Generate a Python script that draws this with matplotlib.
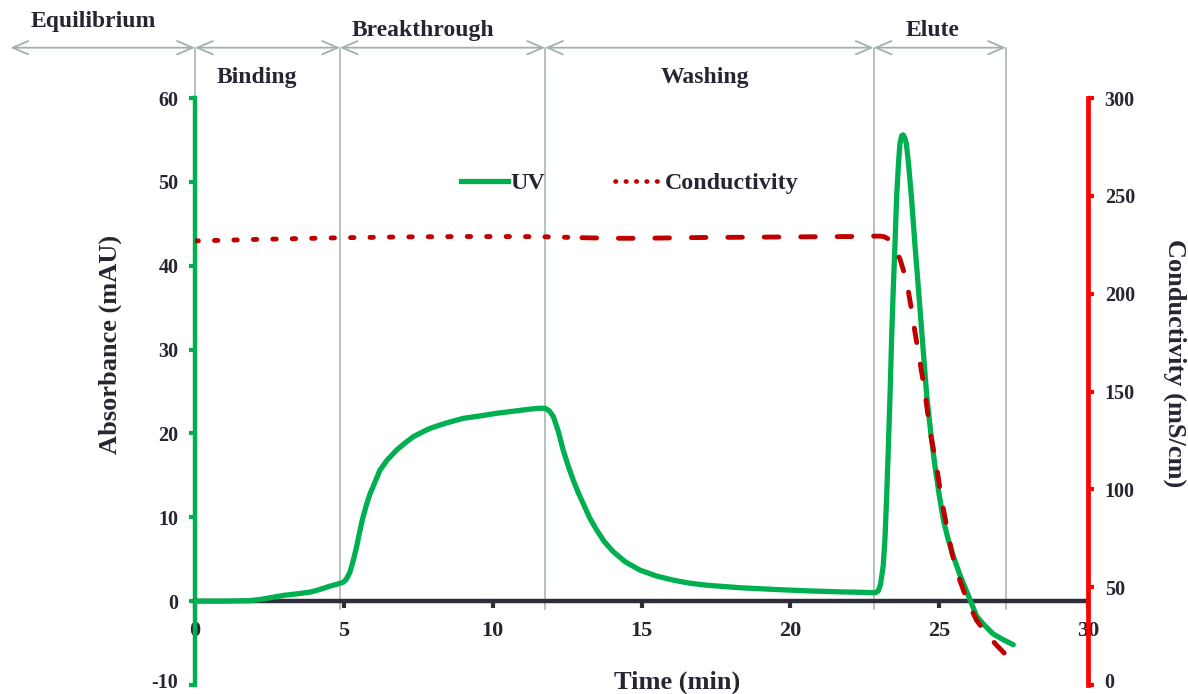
import matplotlib
matplotlib.use("Agg")
import matplotlib.pyplot as plt
import matplotlib.transforms as mtransforms
from matplotlib.lines import Line2D

# ---- data -----------------------------------------------------------------
uv_time = [0, 1.0, 1.8, 2.2, 2.6, 3.0, 3.5, 3.9, 4.2, 4.5, 4.8, 4.98, 5.08,
           5.2, 5.3, 5.43, 5.54, 5.65, 5.77, 5.88, 6.0, 6.21, 6.45, 6.77, 7.0,
           7.33, 7.6, 7.89, 8.4, 9.01, 9.6, 10.13, 10.7, 11.25, 11.55, 11.76,
           11.9, 12.04, 12.2, 12.37, 12.55, 12.71, 12.88, 13.04, 13.25, 13.49,
           13.75, 14.05, 14.45, 14.95, 15.5, 16.07, 16.6, 17.19, 18.31, 19.43,
           20.55, 21.67, 22.67, 22.85, 22.95, 23.03, 23.12, 23.18, 23.23, 23.29,
           23.35, 23.4, 23.46, 23.52, 23.57, 23.63, 23.68, 23.74, 23.79, 23.85,
           23.9, 23.98, 24.07, 24.18, 24.3, 24.44, 24.58, 24.72, 24.86, 25.0,
           25.14, 25.3, 25.47, 25.7, 25.92, 26.1, 26.26, 26.5, 26.81, 27.15,
           27.49]
uv_abs = [0, 0, 0.05, 0.2, 0.45, 0.7, 0.9, 1.1, 1.4, 1.75, 2.05, 2.25, 2.6,
          3.4, 4.6, 6.5, 8.4, 10.1, 11.6, 12.8, 13.8, 15.6, 16.8, 18.0, 18.7,
          19.6, 20.1, 20.6, 21.2, 21.8, 22.1, 22.4, 22.65, 22.9, 23.0, 23.0,
          22.7, 22.0, 20.3, 18.0, 16.0, 14.4, 12.9, 11.65, 10.0, 8.5,
          7.1, 5.9, 4.7, 3.7, 3.0, 2.5, 2.15, 1.9, 1.6, 1.4,
          1.23, 1.11, 1.03, 1.0, 1.2, 2.0, 4.2, 7.5, 11.9, 18.0,
          24.6, 31.0, 37.4, 43.0, 48.1, 52.0, 54.5, 55.5, 55.6, 55.2,
          54.5, 51.8, 48.1, 42.8, 37.4, 31.0, 24.6, 20.0, 16.1, 12.7,
          9.7, 7.4, 5.4, 3.1, 1.2, -0.4, -1.8, -2.8, -3.9, -4.6,
          -5.2]

cond_time = [0, 1, 2, 3, 4, 5, 6, 7, 8, 9, 10, 11, 12, 13, 14, 15, 16, 17,
             18, 19, 20, 21, 22, 22.73, 23.01, 23.15, 23.29, 23.45, 23.55,
             23.68, 23.9, 24.07, 24.18, 24.3, 24.41, 24.52, 24.69, 24.8, 24.91,
             25.02, 25.14, 25.28, 25.42, 25.56, 25.7, 25.92, 26.1, 26.26, 26.5,
             26.7, 26.95, 27.2]
cond_val = [227.0, 227.3, 227.7, 228.0, 228.3, 228.6, 228.8, 229.0, 229.1,
            229.2, 229.2, 229.2, 229.0, 228.6, 228.3, 228.3, 228.5, 228.7,
            228.8, 228.9, 229.0, 229.1, 229.2, 229.4, 229.4, 229.1, 228.0,
            225.0, 222.0, 217.8, 207.0, 192.0, 181.0, 170.0, 160.0, 150.0,
            130.0, 121.0, 112.0, 101.0, 90.0, 79.0, 68.0, 60.0, 53.3, 44.0,
            38.0, 33.0, 28.0, 24.2, 20.0, 16.1]
cond_dotted_until = 13.0   # dotted trace before this time, dashed after

phase_bounds = [0, 4.87, 11.76, 22.8, 27.24]
phase_names = ["Equilibrium", "Binding", "Breakthrough", "Washing", "Elute"]

x_ticks = [0, 5, 10, 15, 20, 25, 30]
uv_ticks = [-10, 0, 10, 20, 30, 40, 50, 60]
cond_ticks = [0, 50, 100, 150, 200, 250, 300]

# ---- style ----------------------------------------------------------------
GREEN = "#00B050"
DARKRED = "#C00000"
RED = "#FF0000"
AXIS = "#2E2E3A"
TEXT = "#262633"
SEP = "#A3B2A9"
FONT = "Liberation Serif"

plt.rcParams["font.family"] = [FONT, "DejaVu Serif"]
plt.rcParams["font.weight"] = "bold"

fig = plt.figure(figsize=(11.88, 6.94), dpi=100)
ax = fig.add_axes([195 / 1188, 1 - 685 / 694, 893 / 1188, 587 / 694])
ax2 = ax.twinx()

ax.set_xlim(0, 30)
ax.set_ylim(-10, 60)
ax2.set_ylim(0, 300)

# spines
ax.spines["top"].set_visible(False)
ax.spines["right"].set_visible(False)
ax.spines["bottom"].set_position(("data", 0))
ax.spines["bottom"].set_color(AXIS)
ax.spines["bottom"].set_linewidth(3.2)
ax.spines["left"].set_color(GREEN)
ax.spines["left"].set_linewidth(3.2)
for s in ["top", "left", "bottom"]:
    ax2.spines[s].set_visible(False)
ax2.spines["right"].set_color(RED)
ax2.spines["right"].set_linewidth(3.4)

ax.set_xticks(x_ticks)
ax.set_xticklabels([str(v) for v in x_ticks])
ax.set_yticks(uv_ticks)
ax.set_yticklabels([str(v) for v in uv_ticks])
ax2.set_yticks(cond_ticks)
ax2.set_yticklabels([str(v) for v in cond_ticks])

ax.tick_params(axis="x", direction="out", length=5, width=3, color=AXIS,
               labelsize=16, labelcolor=TEXT, pad=9)
ax.tick_params(axis="y", direction="out", length=4, width=3, color=GREEN,
               labelsize=14.5, labelcolor=TEXT, pad=8)
ax2.tick_params(axis="y", direction="out", length=4, width=3, color=RED,
                labelsize=14.5, labelcolor=TEXT, pad=8)
for lab in ax.get_xticklabels() + ax.get_yticklabels() + ax2.get_yticklabels():
    lab.set_fontweight("bold")

# lift the lowest y tick labels a touch so they stay inside the canvas
lift = mtransforms.ScaledTranslation(0, 3 / 72, fig.dpi_scale_trans)
for lab in (ax.get_yticklabels()[0], ax2.get_yticklabels()[0]):
    lab.set_transform(lab.get_transform() + lift)

# phase separators and arrows
sep_top = 66.0
sep_bottom = -0.95
for b in phase_bounds:
    ax.plot([b, b], [sep_bottom, sep_top], color=SEP, lw=1.1,
            clip_on=False, zorder=1)
arrow_spans = [(-6.2, phase_bounds[0])] + list(zip(phase_bounds[:-1], phase_bounds[1:]))
for a, b in arrow_spans:
    ax.annotate("", xy=(a, sep_top), xytext=(b, sep_top),
                arrowprops=dict(arrowstyle="<->,head_length=0.7,head_width=0.3",
                                color=SEP, lw=1.3, shrinkA=0, shrinkB=0,
                                mutation_scale=16),
                annotation_clip=False)

label_pos = [(-3.43, 69.1), (2.08, 62.5), (7.66, 68.1), (17.13, 62.5), (24.79, 68.1)]
for name, (lx, ly) in zip(phase_names, label_pos):
    ax.text(lx, ly, name, ha="center", va="center", fontsize=17,
            fontweight="bold", color=TEXT, clip_on=False)

# UV trace
ax.plot(uv_time, uv_abs, color=GREEN, lw=3.8, solid_capstyle="round",
        solid_joinstyle="round", zorder=3, clip_on=False)

# conductivity trace (dotted early, dashed later)
dot_idx = [i for i, t in enumerate(cond_time) if t <= cond_dotted_until]
dash_idx = [i for i, t in enumerate(cond_time) if t >= cond_dotted_until]
ax2.plot([cond_time[i] for i in dot_idx], [cond_val[i] for i in dot_idx],
         color=DARKRED, lw=3.5, linestyle=(0, (0.7, 3.3)), dash_capstyle="round",
         zorder=4)
ax2.plot([cond_time[i] for i in dash_idx], [cond_val[i] for i in dash_idx],
         color=DARKRED, lw=3.5, linestyle=(0, (3, 4.5)), dash_capstyle="round",
         zorder=4, clip_on=False)

# legend
handles = [Line2D([], [], color=GREEN, lw=3.8),
           Line2D([], [], color=DARKRED, lw=3.4, linestyle=(0, (0.1, 2.1)),
                  dash_capstyle="round")]
leg = ax2.legend(handles, ["UV", "Conductivity"], ncol=2, frameon=False,
                 loc="center", bbox_to_anchor=(0.4866, 0.855),
                 handlelength=1.95, handletextpad=0.12, columnspacing=2.9,
                 prop={"family": FONT, "weight": "bold", "size": 17.3})
for t in leg.get_texts():
    t.set_color(TEXT)

# axis titles
fig.text(677 / 1188, 1 - 682 / 694, "Time (min)", ha="center", va="center",
         fontsize=19, fontweight="bold", color=TEXT)
fig.text(110 / 1188, 1 - 344 / 694, "Absorbance (mAU)", ha="center",
         va="center", rotation=90, fontsize=19, fontweight="bold", color=TEXT)
fig.text(1175 / 1188, 1 - 363 / 694, "Conductivity (mS/cm)", ha="center",
         va="center", rotation=270, fontsize=19, fontweight="bold", color=TEXT)

fig.savefig("out.png", dpi=100)
